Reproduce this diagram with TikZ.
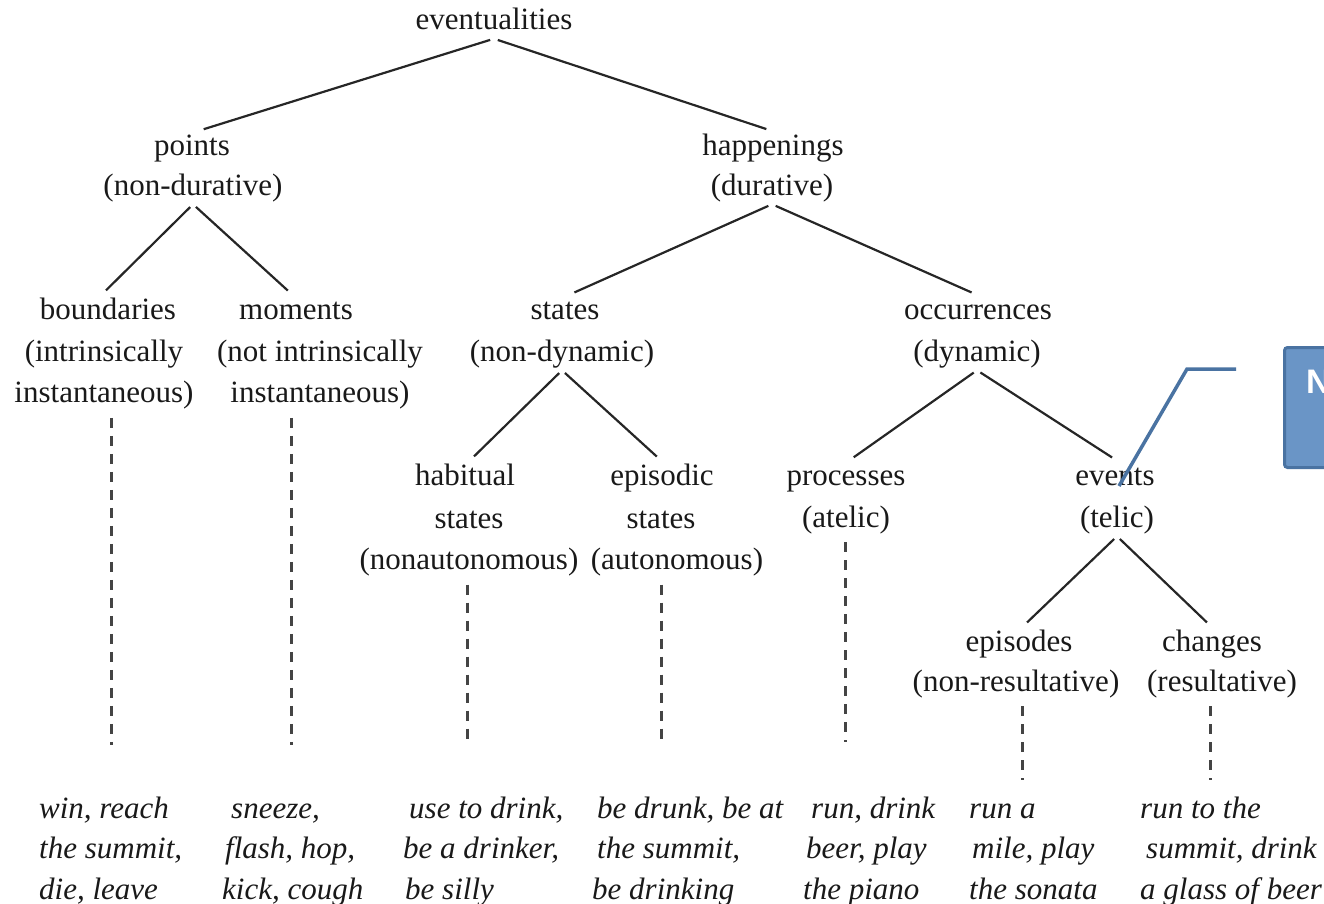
\documentclass[tikz,border=0pt]{standalone}
\usepackage{fontspec}
\setmainfont{Liberation Serif}
\newfontfamily\calloutfont{Liberation Sans}
\usetikzlibrary{calc}
\definecolor{linegray}{HTML}{262626}
\definecolor{dashgray}{HTML}{444444}
\definecolor{calloutfill}{HTML}{6A95C6}
\definecolor{calloutedge}{HTML}{4A73A2}
\tikzset{
  lbl/.style={inner xsep=0pt, inner ysep=2pt, align=center,
    font=\fontsize{31}{41}\selectfont, text=black!90},
  head/.style={lbl, text height=22pt, text depth=7pt},
  ex/.style={inner sep=0pt, anchor=base west,
    font=\fontsize{31}{41}\selectfont\itshape, text=black!90},
  branch/.style={draw=linegray, line width=2.2pt, shorten <=4pt, shorten >=7pt},
  dashline/.style={draw=dashgray, line width=3pt, dash pattern=on 10pt off 8pt, shorten <=6pt},
}
\begin{document}
\begin{tikzpicture}[x=1pt, y=-1pt]
\useasboundingbox (0,0) rectangle (1324,904);

% category labels: head word and the lines below it
\node[head] (eventualities) at (494,22) {eventualities};

\node[head] (points)     at (192,148) {points};
\node[lbl]  (points-sub) at (193,188) {(non-durative)};
\node[head] (happenings)     at (773,148) {happenings};
\node[lbl]  (happenings-sub) at (772,188) {(durative)};

\node[head] (boundaries)     at (108,312) {boundaries};
\node[lbl]  (boundaries-sub) at (104,375) {(intrinsically\\instantaneous)};
\node[head] (moments)        at (296,312) {moments};
\node[lbl]  (moments-sub)    at (320,375) {(not intrinsically\\instantaneous)};

\node[head] (states)          at (565,312) {states};
\node[lbl]  (states-sub)      at (562,354) {(non-dynamic)};
\node[head] (occurrences)     at (978,312) {occurrences};
\node[lbl]  (occurrences-sub) at (977,354) {(dynamic)};

\node[head] (habitual)     at (465,478) {habitual};
\node[lbl]  (habitual-sub) at (469,544) {states\\(nonautonomous)};
\node[head] (episodic)     at (662,478) {episodic};
\node[lbl]  (episodic-sub) at (677,544) {\hspace*{-32pt}states\\(autonomous)};

\node[head] (processes)     at (846,478) {processes};
\node[lbl]  (processes-sub) at (846,520) {(atelic)};
\node[head] (events)        at (1115,478) {events};
\node[lbl]  (events-sub)    at (1117,520) {(telic)};

\node[head] (episodes)     at (1019,644) {episodes};
\node[lbl]  (episodes-sub) at (1016,684) {(non-resultative)};
\node[head] (changes)      at (1212,644) {changes};
\node[lbl]  (changes-sub)  at (1222,684) {(resultative)};

% tree branches
\draw[branch] (eventualities.south) -- ($(points.north)+(5,0)$);
\draw[branch] (eventualities.south) -- (happenings.north);
\draw[branch] (points-sub.south) -- ($(boundaries.north)+(-7,0)$);
\draw[branch] (points-sub.south) -- ($(moments.north)+(-3,0)$);
\draw[branch] (happenings-sub.south) -- ($(states.north)+(3,0)$);
\draw[branch] (happenings-sub.south) -- (occurrences.north);
\draw[branch] (states-sub.south) -- ($(habitual.north)+(4,0)$);
\draw[branch] (states-sub.south) -- (episodic.north);
\draw[branch] (occurrences-sub.south) -- ($(processes.north)+(2,0)$);
\draw[branch] (occurrences-sub.south) -- ($(events.north)+(3,0)$);
\draw[branch] (events-sub.south) -- ($(episodes.north)+(3,0)$);
\draw[branch] (events-sub.south) -- (changes.north);

% dashed leads down to the example verbs
\coordinate (boundaries-end) at (111,745);
\coordinate (moments-end)    at (291,745);
\coordinate (habitual-end)   at (467,745);
\coordinate (episodic-end)   at (661,745);
\coordinate (processes-end)  at (845,742);
\coordinate (episodes-end)   at (1022,780);
\coordinate (changes-end)    at (1210,780);
\draw[dashline] (boundaries-sub.south -| boundaries-end) -- (boundaries-end);
\draw[dashline] (moments-sub.south -| moments-end) -- (moments-end);
\draw[dashline] (habitual-sub.south -| habitual-end) -- (habitual-end);
\draw[dashline] (episodic-sub.south -| episodic-end) -- (episodic-end);
\draw[dashline] (processes-sub.south -| processes-end) -- (processes-end);
\draw[dashline] (episodes-sub.south -| episodes-end) -- (episodes-end);
\draw[dashline] (changes-sub.south -| changes-end) -- (changes-end);

% example verbs, one node per line
\foreach \name/\xa/\xb/\xc/\la/\lb/\lc in {
  ex-a/39/39/39/{win, reach}/{the summit,}/{die, leave},
  ex-b/231/225/222/{sneeze,}/{flash, hop,}/{kick, cough},
  ex-c/409/403/405/{use to drink,}/{be a drinker,}/{be silly},
  ex-d/597/597/592/{be drunk, be at}/{the summit,}/{be drinking},
  ex-e/811/806/803/{run, drink}/{beer, play}/{the piano},
  ex-f/969/972/969/{run a}/{mile, play}/{the sonata},
  ex-g/1140/1146/1140/{run to the}/{summit, drink}/{a glass of beer}}{
  \node[ex] (\name-1) at (\xa,818) {\la};
  \node[ex] (\name-2) at (\xb,858) {\lb};
  \node[ex] (\name-3) at (\xc,899) {\lc};
}

% callout box at the right edge
\begin{scope}
\clip (0,0) rectangle (1324,904);
\node[draw=calloutedge, line width=3pt, fill=calloutfill, rounded corners=3pt,
  minimum width=110pt, minimum height=120pt, anchor=north west,
  inner sep=0pt] (callout) at (1283,346) {};
\node[anchor=north west, inner sep=0pt, text=white,
  font=\calloutfont\bfseries\fontsize{34}{40}\selectfont] (callout-text) at (1306,370) {N};
\end{scope}
\coordinate (callout-knee) at (1187,369);
\coordinate (callout-tail) at (1236,369);
\draw[calloutedge, line width=3.5pt] ($(events.center)+(4,8)$) coordinate (callout-tip)
  -- (callout-knee) -- (callout-tail);
\end{tikzpicture}
\end{document}
